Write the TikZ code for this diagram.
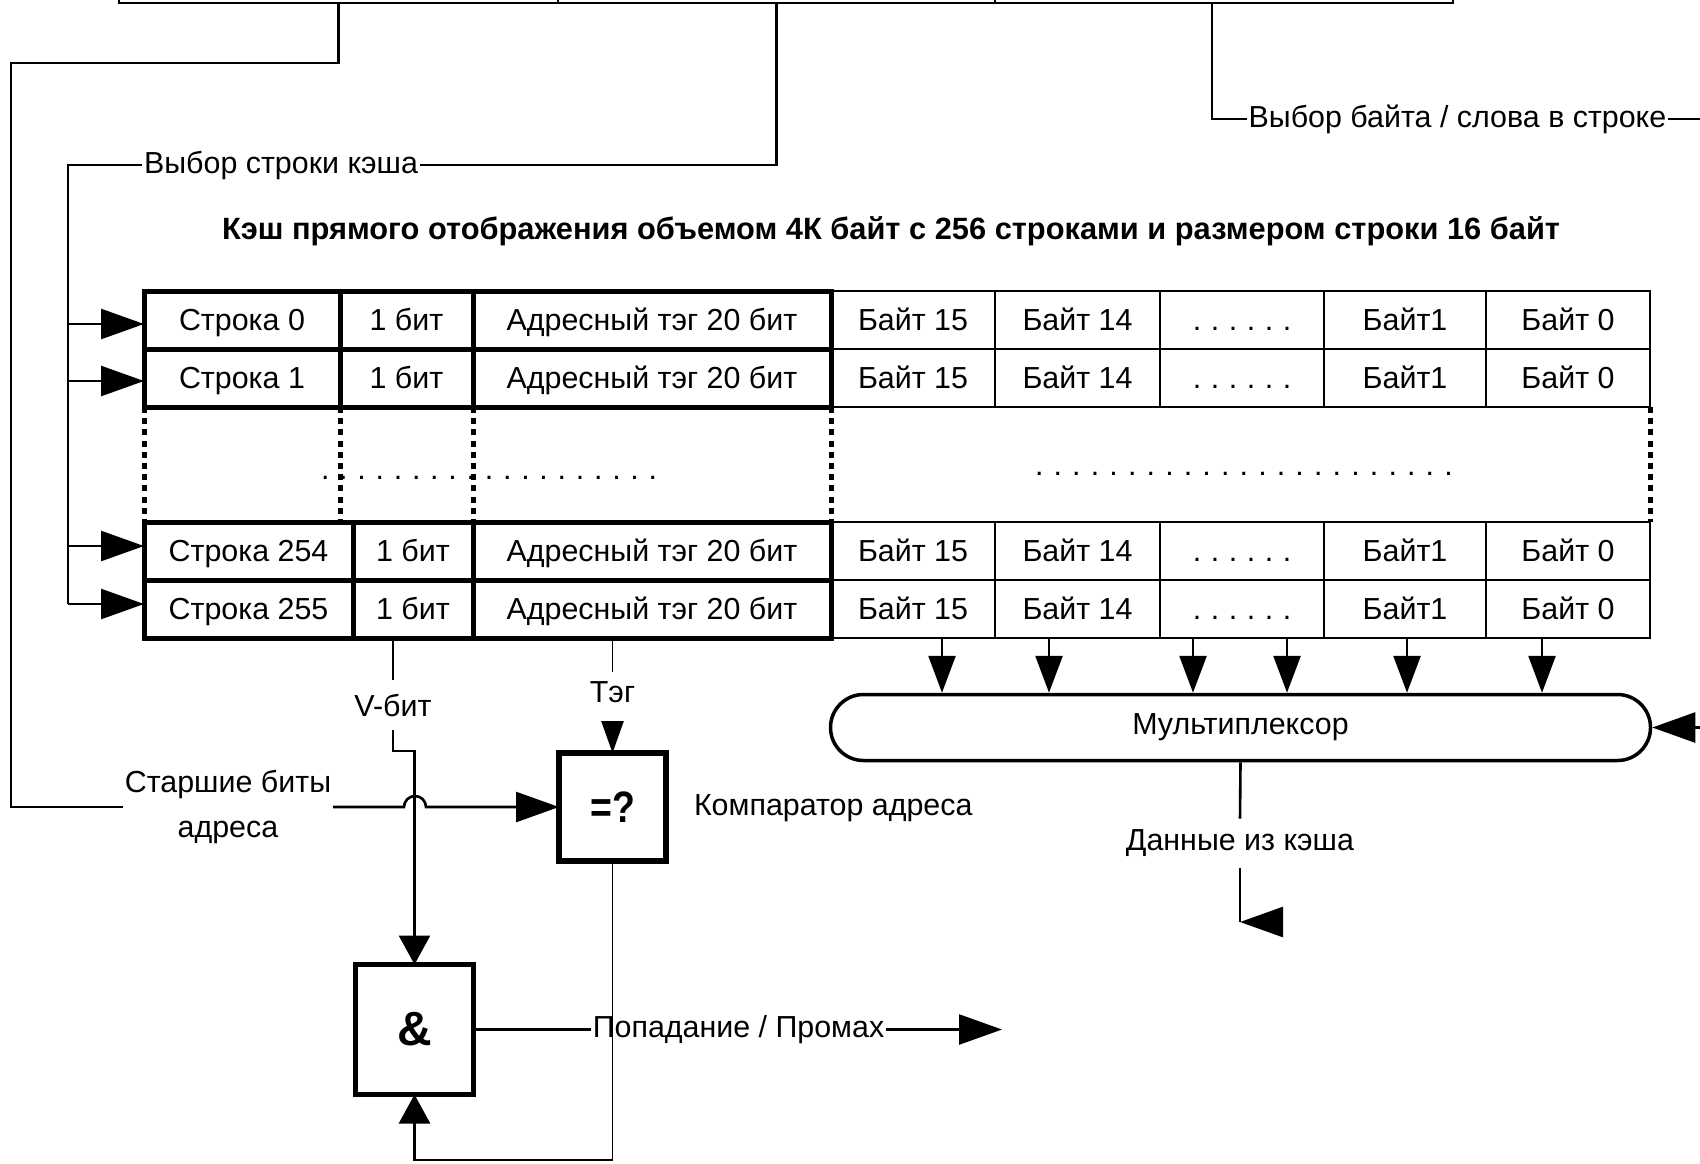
\documentclass[tikz,border=0pt]{standalone}
\usepackage{fontspec}
\setmainfont{Liberation Sans}
\usetikzlibrary{arrows.meta,calc}

\newcommand\lblfont{\fontsize{15.2}{22.5}\selectfont}
% a row of evenly spaced dots: #1 dots, #2 pitch
\newcommand\dotseq[2]{\foreach \k in {2,...,#1}{\makebox[#2][l]{.}}.}
% one table cell: style, name, left x, right x, centre y, text
\newcommand\cell[6]{\node[#1, minimum width={(#4-#3)*0.5pt}] (#2) at ({(#3+#4)/2},#5) {#6};}

\tikzset{
  wire/.style={line width=1.3pt},
  fine/.style={line width=0.8pt},
  lbl/.style={font=\lblfont, inner sep=1pt, outer sep=0pt},
  bigtip/.style={-{Triangle[length=21.5pt,width=15pt]}},
  midtip/.style={-{Triangle[length=18.5pt,width=13.5pt]}},
  smalltip/.style={-{Triangle[length=14.5pt,width=15.5pt]}},
  tagtip/.style={-{Triangle[length=16pt,width=11pt]}},
  field/.style={draw, line width=1.3pt, inner sep=0pt, outer sep=0pt, minimum height=31.5pt},
  cellbase/.style={draw, inner sep=0pt, outer sep=0pt, minimum height=29pt,
    font=\lblfont, text height=10.8pt, text depth=0pt},
  cellL/.style={cellbase, line width=2.5pt},
  cellR/.style={cellbase, line width=1.3pt},
  gate/.style={draw, line width=2.6pt, inner sep=0pt, outer sep=0pt, font=\bfseries},
  gapline/.style={line width=2.5pt, dash pattern=on 3pt off 2.6pt},
}

\begin{document}
\begin{tikzpicture}[x=0.5pt,y=-0.5pt]
\useasboundingbox (0,0) rectangle (1700,1163);

% address register (upper part lies outside the page)
\node[field, minimum width=219.5pt] (f1) at (338.5,-28.5) {};
\node[field, minimum width=218.5pt] (f2) at (776.5,-28.5) {};
\node[field, minimum width=229pt]   (f3) at (1224,-28.5) {};

% title
\node[font=\fontsize{15.4}{18}\selectfont\bfseries] (title) at (891,231)
  {Кэш прямого отображения объемом 4К байт с 256 строками и размером строки 16 байт};

% data part of the cache lines
\foreach \r/\yc in {0/320,1/378,254/551,255/609}{
  \cell{cellR}{row\r-3}{831}{995}{\yc}{Байт 15}
  \cell{cellR}{row\r-4}{995}{1160}{\yc}{Байт 14}
  \cell{cellR}{row\r-5}{1160}{1324}{\yc}{\dotseq{6}{9pt}}
  \cell{cellR}{row\r-6}{1324}{1486}{\yc}{Байт1}
  \cell{cellR}{row\r-7}{1486}{1650}{\yc}{Байт 0}
}
% line number, valid bit and tag
\foreach \r/\yc/\xs in {0/320/340,1/378/340,254/551/353,255/609/353}{
  \cell{cellL}{row\r-2}{473}{831}{\yc}{Адресный тэг 20 бит}
  \cell{cellL}{row\r-1}{\xs}{473}{\yc}{1 бит}
  \cell{cellL}{row\r-0}{144}{\xs}{\yc}{Строка \r}
}
% omitted lines
\foreach \c in {0,1,2}
  \draw[gapline] (row1-\c.south west) -- (row1-\c.south west |- row254-0.north);
\draw[gapline] (row1-2.south east) -- (row1-2.south east |- row254-0.north);
\draw[gapline] (row1-7.south east) -- (row1-7.south east |- row254-0.north);
\node[lbl, anchor=base west, inner sep=0pt] (gapdotsL) at (321,479) {\dotseq{19}{9.1pt}};
\node[lbl, anchor=base west, inner sep=0pt] (gapdotsR) at (1035,475) {\dotseq{23}{9.3pt}};

% labels
\node[lbl] (rowsel) at (281,165) {Выбор строки кэша};
\node[lbl] (bytesel) at (1457.5,119) {Выбор байта / слова в строке};
\node[lbl, align=center] (hibits) at (228,807) {Старшие биты\\адреса};
\node[lbl, minimum height=25pt] (vbit) at (393,705) {V-бит};
\node[lbl, minimum height=20pt] (tag) at (612.5,692) {Тэг};
\node[lbl, anchor=west] (cmplbl) at (692,808) {Компаратор адреса};
\node[lbl] (hit) at (738.5,1029.5) {Попадание / Промах};
\node[lbl, minimum height=24.5pt] (dout) at (1240,843) {Данные из кэша};

% comparator, AND gate, multiplexer
\node[gate, minimum width=53.5pt, minimum height=54pt] (cmp) at (612.5,807)
  {\fontsize{22}{24}\selectfont\scalebox{0.85}[1]{=?}};
\node[gate, minimum width=59pt, minimum height=65pt] (and) at (414.5,1029.5)
  {\fontsize{24}{26}\selectfont\&};
\node[draw, line width=1.75pt, rounded corners=16.5pt, minimum width=410pt,
  minimum height=33pt, inner sep=0pt, font=\lblfont] (mux) at (1240.5,727.5) {Мультиплексор};

% free ends at the page border
\coordinate (busL) at (68,0);
\coordinate (byteout) at (1700,119);
\coordinate (muxin) at (1700,727.5);
\coordinate (doutend) at (1240,922);
\coordinate (hitout) at (1002,1029.5);

% high address bits to the comparator
\draw[wire] (f1.south) |- (11,63) |- (hibits.west);
\draw[wire, bigtip] (hibits.east) -- (404,807) arc[start angle=180, end angle=360, radius=11] -- (cmp.west);

% line select bus
\draw[wire] (f2.south) |- (rowsel.east);
\draw[wire] (rowsel.west) -| (busL |- 0,604);
\foreach \r/\dy in {0/-2,1/-1.5,254/2.5,255/2.5}
  \draw[wire, {Triangle[length=21.5pt,width=15pt]}-] ([yshift=\dy pt]row\r-0.west) -- ++(-76,0);

% byte select
\draw[wire] ([xshift=-6pt]f3.south) |- (bytesel.west);
\draw[wire] (bytesel.east) -- (byteout);
\draw[wire, bigtip] (muxin) -- (mux.east);

% data bytes into the multiplexer
\foreach \x in {942,1049,1193,1287,1407,1542}
  \draw[wire, midtip] (\x,0 |- row255-7.south) -- (\x,0 |- mux.north);

% multiplexer output
\draw[wire] (mux.south) -- (dout.north);
\draw[wire] (dout.south) -- (doutend);
\draw[wire, bigtip] ([xshift=21.5pt]doutend) -- (doutend);

% valid bit
\draw[wire] (393,0 |- row255-1.south) -- (vbit.north);
\draw[wire, smalltip] (vbit.south) |- (and.north |- 0,751) -- (and.north);

% tag
\draw[fine] (tag.south |- row255-2.south) -- (tag.north);
\draw[wire, tagtip] ([yshift=16pt]cmp.north) -- (cmp.north);

% comparator result to the AND gate
\draw[fine] (cmp.south) -- (cmp.south |- 0,1160);
\draw[wire, smalltip] (cmp.south |- 0,1160) -| (and.south);

% hit / miss
\draw[wire] (and.east) -- (hit.west);
\draw[wire, bigtip] (hit.east) -- (hitout);
\end{tikzpicture}
\end{document}
